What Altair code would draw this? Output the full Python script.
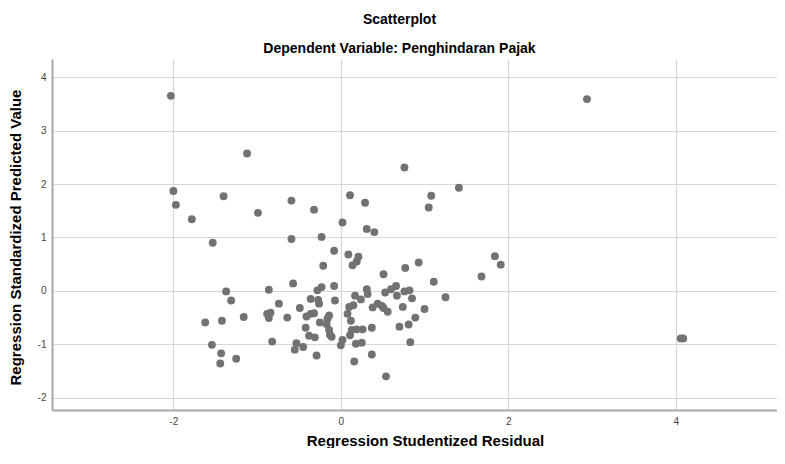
import altair as alt
import pandas as pd

# Regression Studentized Residual (x) and Regression Standardized Predicted Value (y)
resid = [
    -2.03, 2.94, -1.12, 0.76, 1.41, -2.00, -1.97, -1.78, -1.40, -0.99,
    -0.59, -0.32, 0.02, 0.11, 0.29, 0.31, 0.40, 1.08, 1.05, 4.06,
    4.09, 1.84, 1.91,
    -1.53, -0.59, -0.23, -0.08, 0.09, -0.21, -0.57, -0.86, -1.37, -0.28,
    -0.23, -0.08, -1.31, -0.74, -0.36, -0.27, -0.26, -0.07, -0.49, -1.62,
    -1.42, -1.16, -0.88, -0.84, -0.86, -0.64, -0.41, -0.36, -0.32, -0.14,
    -0.16, -0.17, -0.25, -0.42, -0.14, -0.13, -0.11, -0.38, -0.31, -0.82,
    -0.53, -0.55, -0.45, 0.02, 0.00, -1.54, -1.43, -1.44, -1.25, -0.29,
    0.21, 0.19, 0.14, 0.93, 0.77, 0.51, 1.68, 1.11, 0.31, 0.32,
    0.17, 0.53, 0.60, 0.66, 0.67, 0.76, 0.82, 0.85, 1.25, 0.24,
    0.10, 0.15, 0.38, 0.44, 0.49, 0.51, 0.56, 0.74, 1.00, 0.08,
    0.12, 0.89, 0.70, 0.81, 0.37, 0.13, 0.19, 0.26, 0.11, 0.18,
    0.25, 0.83, 0.37, 0.16, 0.54,
]
pred = [
    3.65, 3.59, 2.57, 2.31, 1.93, 1.87, 1.61, 1.34, 1.77, 1.46,
    1.69, 1.52, 1.28, 1.79, 1.65, 1.16, 1.10, 1.78, 1.56, -0.89,
    -0.89, 0.65, 0.49,
    0.90, 0.97, 1.01, 0.75, 0.68, 0.47, 0.14, 0.02, -0.01, 0.01,
    0.07, 0.09, -0.18, -0.24, -0.15, -0.17, -0.24, -0.18, -0.32, -0.59,
    -0.56, -0.49, -0.43, -0.41, -0.51, -0.50, -0.48, -0.43, -0.42, -0.46,
    -0.52, -0.62, -0.59, -0.69, -0.73, -0.82, -0.86, -0.84, -0.87, -0.95,
    -0.98, -1.10, -1.05, -0.92, -1.02, -1.01, -1.17, -1.36, -1.27, -1.21,
    0.64, 0.55, 0.48, 0.53, 0.43, 0.31, 0.27, 0.17, 0.03, -0.06,
    -0.09, -0.03, 0.03, 0.09, -0.09, -0.01, 0.01, -0.14, -0.12, -0.16,
    -0.30, -0.27, -0.31, -0.24, -0.28, -0.32, -0.39, -0.30, -0.34, -0.43,
    -0.56, -0.50, -0.67, -0.63, -0.69, -0.73, -0.72, -0.72, -0.83, -0.99,
    -0.97, -0.96, -1.19, -1.32, -1.60,
]

x_ticks = [-2, 0, 2, 4]
y_ticks = [-2, -1, 0, 1, 2, 3, 4]

df = pd.DataFrame({"resid": resid, "pred": pred})

FONT = "Liberation Sans"
HYPHEN = "replace(datum.label, '\u2212', '-')"

chart = (
    alt.Chart(df)
    .mark_circle(size=62, color="#727272", opacity=1)
    .encode(
        x=alt.X(
            "resid:Q",
            scale=alt.Scale(domain=[-3.45, 5.21], nice=False, zero=False),
            axis=alt.Axis(
                values=x_ticks,
                labelExpr=HYPHEN,
                title="Regression Studentized Residual",
                titleX=373,
                titleY=35,
                titleAnchor="start",
                titleAlign="center",
                titleBaseline="alphabetic",
            ),
        ),
        y=alt.Y(
            "pred:Q",
            scale=alt.Scale(domain=[-2.23, 4.34], nice=False, zero=False),
            axis=alt.Axis(
                values=y_ticks,
                labelExpr=HYPHEN,
                title="Regression Standardized Predicted Value",
                titleX=-32,
                titleY=178,
                titleAngle=-90,
                titleAlign="center",
                titleBaseline="alphabetic",
            ),
        ),
    )
    .properties(
        width=725,
        height=351,
        autosize=alt.AutoSizeParams(type="none"),
        padding={"left": 44, "top": 51, "right": 0, "bottom": 38},
        title=alt.TitleParams(
            text="Scatterplot",
            subtitle="Dependent Variable: Penghindaran Pajak",
            font=FONT,
            subtitleFont=FONT,
            fontSize=14,
            subtitleFontSize=14,
            fontWeight="bold",
            subtitleFontWeight="bold",
            color="#000000",
            subtitleColor="#000000",
            anchor="middle",
            frame="group",
            dx=-15,
            offset=3,
            subtitlePadding=15,
        ),
    )
    .configure_view(stroke=None)
    .configure_axis(
        labelFont=FONT,
        labelFontSize=10,
        labelColor="#444444",
        labelPadding=6,
        titleFont=FONT,
        titleFontSize=15,
        titleFontWeight="bold",
        titleColor="#000000",
        ticks=False,
        grid=True,
        gridColor="#d6d6d6",
        gridWidth=1.2,
        domainColor="#a8a8a8",
        domainWidth=2,
    )
)

chart.save("out.html", embed_options={"renderer": "svg", "actions": False})
